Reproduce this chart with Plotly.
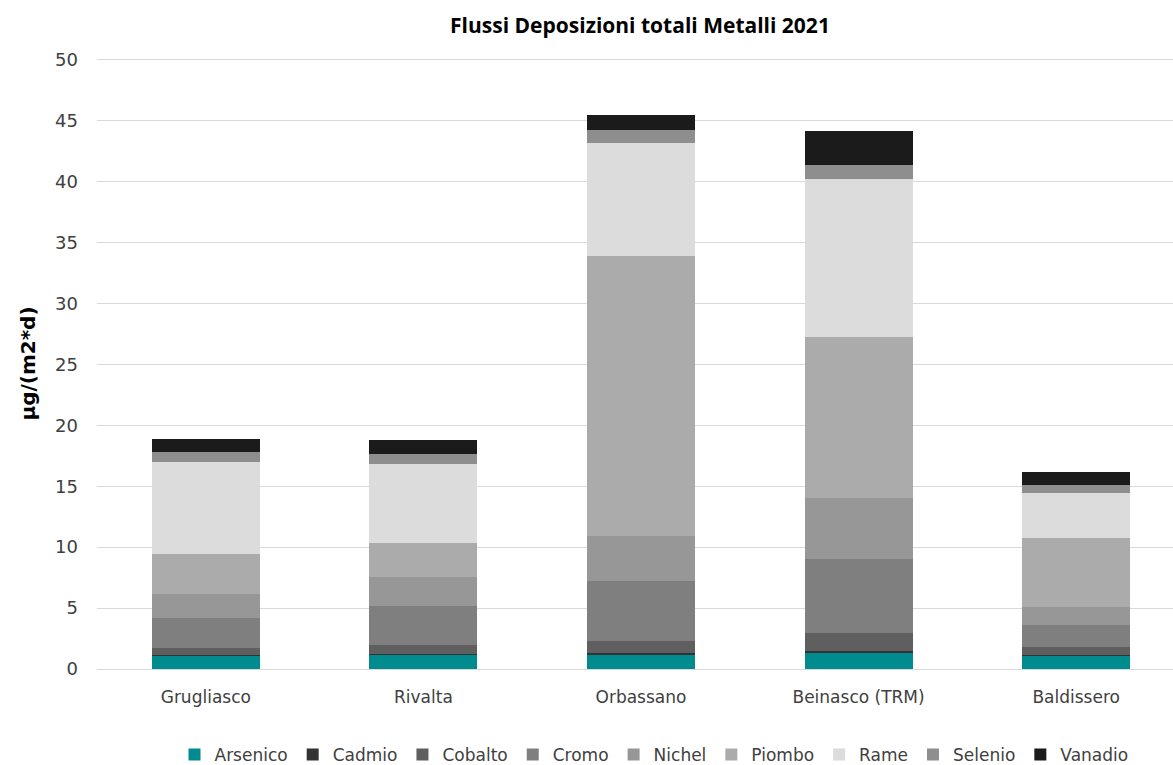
import plotly.graph_objects as go

sites = ["Grugliasco", "Rivalta", "Orbassano", "Beinasco (TRM)", "Baldissero"]

arsenico = [1.10, 1.15, 1.22, 1.37, 1.10]
cadmio   = [0.05, 0.05, 0.09, 0.09, 0.03]
cobalto  = [0.57, 0.77, 1.00, 1.46, 0.71]
cromo    = [2.49, 3.23, 4.92, 6.07, 1.76]
nichel   = [1.97, 2.35, 3.65, 5.02, 1.45]
piombo   = [3.29, 2.82, 23.00, 13.22, 5.72]
rame     = [7.48, 6.49, 9.27, 12.97, 3.65]
selenio  = [0.84, 0.79, 1.09, 1.16, 0.69]
vanadio  = [1.09, 1.18, 1.25, 2.82, 1.10]

series = [
    ("Arsenico", arsenico, "#008b8f"),
    ("Cadmio", cadmio, "#333333"),
    ("Cobalto", cobalto, "#5f5f5f"),
    ("Cromo", cromo, "#7f7f7f"),
    ("Nichel", nichel, "#979797"),
    ("Piombo", piombo, "#ababab"),
    ("Rame", rame, "#dcdcdc"),
    ("Selenio", selenio, "#8e8e8e"),
    ("Vanadio", vanadio, "#1b1b1b"),
]

fig = go.Figure()
for name, vals, col in series:
    fig.add_trace(go.Bar(name=name, x=sites, y=vals, marker=dict(color=col, line=dict(width=0))))

font_ticks = "'DejaVu Sans', sans-serif"
fig.update_layout(
    barmode="stack",
    bargap=0.503,
    width=1173, height=765,
    paper_bgcolor="white", plot_bgcolor="white",
    margin=dict(l=97, r=0, t=58, b=96, autoexpand=False),
    font=dict(family=font_ticks, color="#404040", size=17),
    title=dict(text="<b>Flussi Deposizioni totali Metalli 2021</b>", x=640/1173, xanchor="center",
               xref="container", y=1 - 26/765, yanchor="middle",
               font=dict(size=21, color="#000000", family="'Open Sans', sans-serif")),
    xaxis=dict(range=[-0.5, 4.445], showgrid=False, showline=False, ticks="",
               tickfont=dict(size=17, color="#404040"), ticklabelstandoff=16),
    yaxis=dict(range=[0, 50.15], tickvals=[0, 5, 10, 15, 20, 25, 30, 35, 40, 45, 50],
               showgrid=True, gridcolor="#d9d9d9", gridwidth=1,
               zeroline=True, zerolinecolor="#d9d9d9", zerolinewidth=1, showline=False,
               tickfont=dict(size=18, color="#404040"), ticklabelstandoff=18,
               title=dict(text="<b>µg/(m2*d)</b>", font=dict(size=20, color="#000000", family="'DejaVu Sans', sans-serif"),
                          standoff=14)),
    legend=dict(orientation="h", xref="container", x=654/1173, xanchor="center",
                yref="container", y=1 - 755/765, yanchor="middle",
                font=dict(size=17, color="#404040"), traceorder="normal",
                itemwidth=30, tracegroupgap=0),
    showlegend=True,
)

fig.write_html("out.html")
